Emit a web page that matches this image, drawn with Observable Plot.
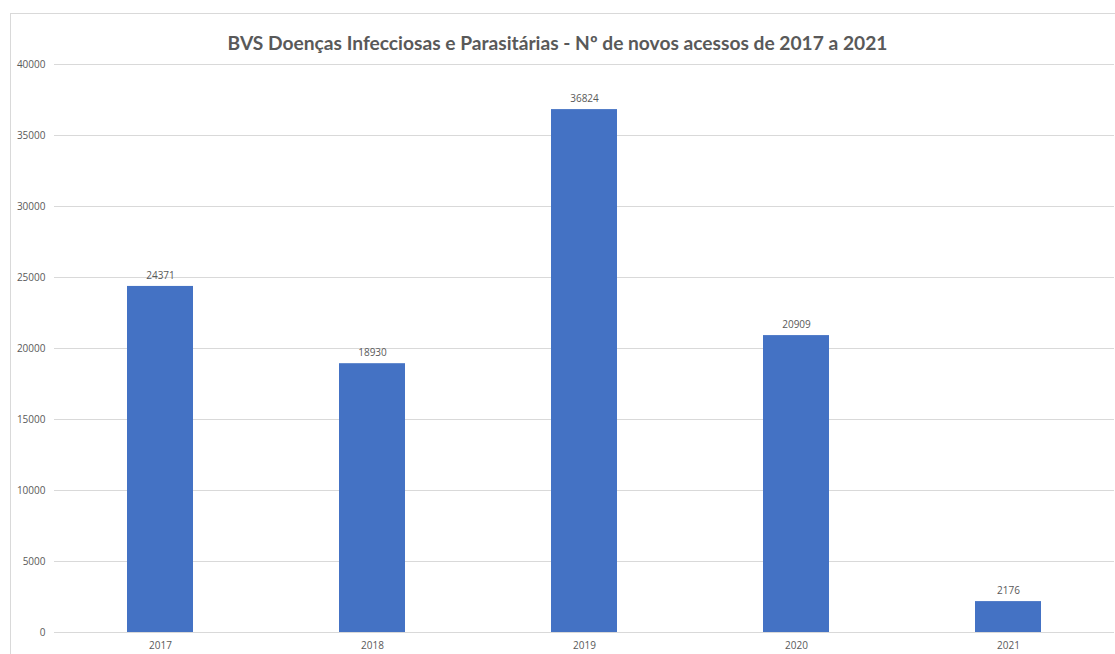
<!DOCTYPE html>
<html>
<head>
<meta charset="utf-8">
<script src="https://cdn.jsdelivr.net/npm/d3@7"></script>
<script src="https://cdn.jsdelivr.net/npm/@observablehq/plot@0.6"></script>
<style>
  html, body { margin: 0; padding: 0; background: #fff; overflow: hidden; }
  #frame { position: absolute; left: 10px; top: 13px; width: 1130px; height: 680px; border: 1px solid #d9d9d9; box-sizing: border-box; }
  #title { position: absolute; left: 0; top: 31px; width: 1115px; text-align: center; font-family: Lato, "Open Sans", sans-serif; font-weight: bold; font-size: 19.2px; color: #595959; }
  #chart { position: absolute; left: 0; top: 0; }
</style>
</head>
<body>
<div id="frame"></div>
<div id="title">BVS Doenças Infecciosas e Parasitárias - Nº de novos acessos de 2017 a 2021</div>
<div id="chart"></div>
<script>
const years = ["2017", "2018", "2019", "2020", "2021"];
const accesses = [24371, 18930, 36824, 20909, 2176];
const yTicks = [0, 5000, 10000, 15000, 20000, 25000, 30000, 35000, 40000];

const data = years.map((y, i) => ({year: y, value: accesses[i]}));

const chart = Plot.plot({
  width: 1115,
  height: 654,
  marginTop: 64,
  marginBottom: 22,
  marginLeft: 54,
  marginRight: 1,
  style: {fontFamily: "'Open Sans', sans-serif", fontSize: "10px", color: "#595959", background: "transparent"},
  x: {domain: years, paddingInner: 0.69, paddingOuter: 0.345, label: null, tickSize: 0, tickPadding: 9},
  y: {domain: [0, 40000], ticks: yTicks, label: null, tickSize: 0, tickPadding: 9, tickFormat: d => String(d)},
  marks: [
    Plot.gridY(yTicks, {stroke: "#d9d9d9", strokeOpacity: 1, strokeWidth: 1}),
    Plot.barY(data, {x: "year", y: "value", fill: "#4472c4"}),
    Plot.text(data, {x: "year", y: "value", text: d => String(d.value), dy: -11, fill: "#595959", fontSize: 10})
  ]
});
document.getElementById("chart").appendChild(chart);
</script>
</body>
</html>
